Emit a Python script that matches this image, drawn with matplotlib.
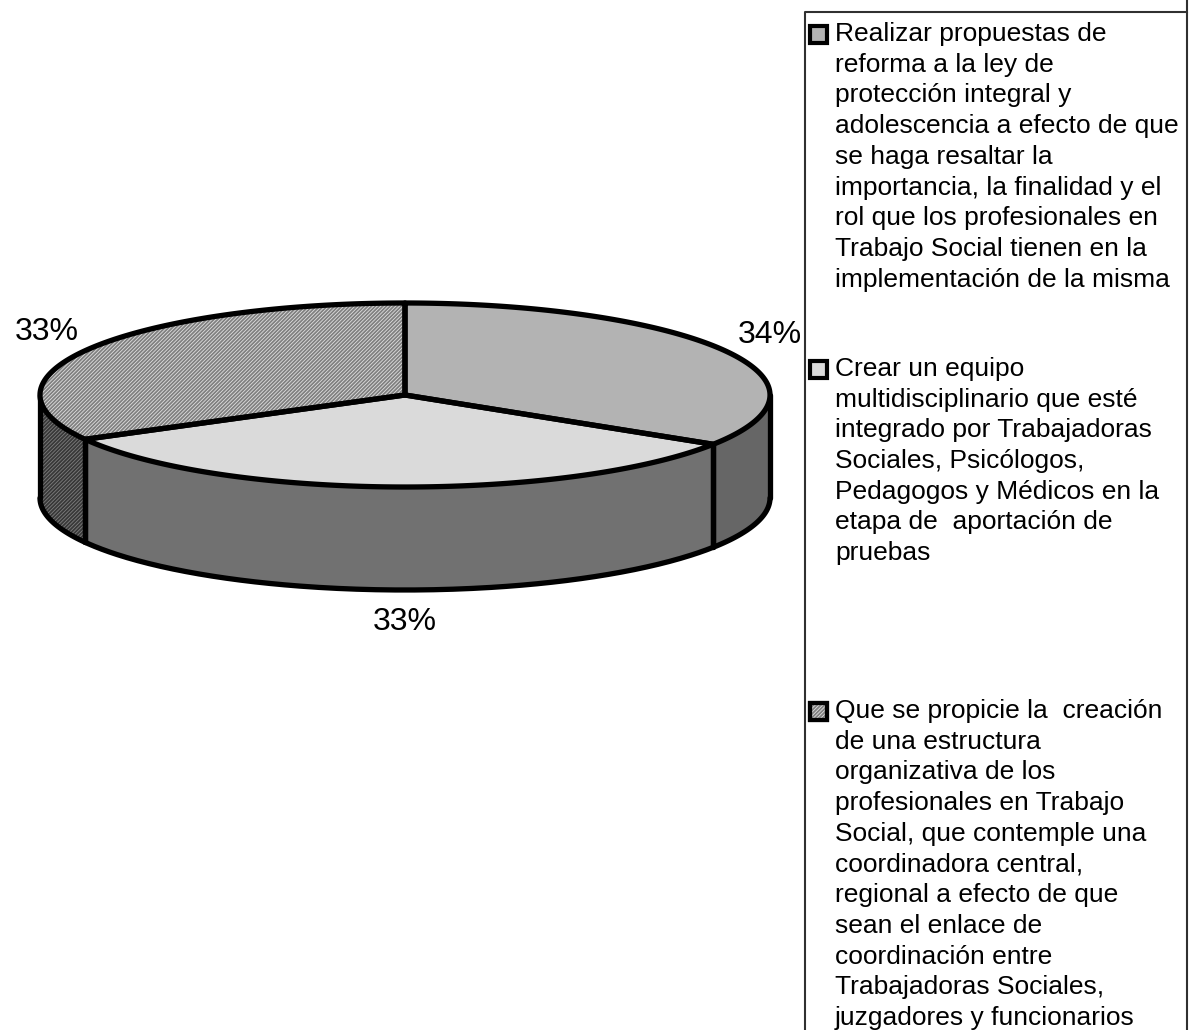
import numpy as np
import matplotlib.pyplot as plt
from matplotlib.patches import Polygon, Rectangle

plt.rcParams['font.family'] = ['Liberation Sans', 'DejaVu Sans']
plt.rcParams['hatch.linewidth'] = 1.3

# datos
valores = [34, 33, 33]
etiquetas = ['34%', '33%', '33%']
leyenda = [
    ["Realizar propuestas de", "reforma a la ley de", "protección integral y",
     "adolescencia a efecto de que", "se haga resaltar la",
     "importancia, la finalidad y el", "rol que los profesionales en",
     "Trabajo Social tienen en la", "implementación de la misma"],
    ["Crear un equipo", "multidisciplinario que esté",
     "integrado por Trabajadoras", "Sociales, Psicólogos,",
     "Pedagogos y Médicos en la", "etapa de  aportación de", "pruebas"],
    ["Que se propicie la  creación", "de una estructura",
     "organizativa de los", "profesionales en Trabajo",
     "Social, que contemple una", "coordinadora central,",
     "regional a efecto de que", "sean el enlace de",
     "coordinación entre", "Trabajadoras Sociales,",
     "juzgadores y funcionarios"],
]

# estilos
tapa = ['#b3b3b3', '#dadada', '#e2e2e2']
lado = ['#666666', '#717171', '#808080']
trama_col = [None, None, '#808080']
trama_lado = [None, None, '#383838']
leyenda_y = [34, 369, 711]

fig = plt.figure(figsize=(11.89, 10.30), dpi=100)
ax = fig.add_axes([0, 0, 1, 1])
ax.set_xlim(0, 1189)
ax.set_ylim(1030, 0)
ax.axis('off')

cx, cy, a, b, h = 405, 395, 365, 92, 103
lw = 3.8


def punto(t, dy=0):
    t = np.radians(t)
    return cx + a * np.sin(t), cy - b * np.cos(t) + dy


def arco(t0, t1, dy=0):
    ts = np.linspace(t0, t1, max(int(abs(t1 - t0)) * 2, 2))
    return np.array([punto(t, dy) for t in ts])


fr = np.array(valores) / sum(valores) * 360
lim = np.concatenate([[0], np.cumsum(fr)])

# lados
for i in range(len(valores)):
    t0, t1 = max(lim[i], 90), min(lim[i + 1], 270)
    if t1 <= t0:
        continue
    arr = arco(t0, t1)
    abj = arco(t0, t1, h)[::-1]
    pts = np.vstack([arr, abj])
    ax.add_patch(Polygon(pts, closed=True, facecolor=lado[i], edgecolor='none', zorder=2))
    if trama_lado[i]:
        ax.add_patch(Polygon(pts, closed=True, facecolor='none', edgecolor=trama_lado[i],
                             hatch='/' * 9, linewidth=0, zorder=2.1))
    abj = abj[::-1]
    ax.plot(abj[:, 0], abj[:, 1], color='black', lw=lw, zorder=3, solid_capstyle='round')
    for t in (t0, t1):
        x0, y0 = punto(t)
        ax.plot([x0, x0], [y0, y0 + h], color='black', lw=lw, zorder=3, solid_capstyle='round')

# tapas
for i in range(len(valores)):
    arr = arco(lim[i], lim[i + 1])
    pts = np.vstack([[cx, cy], arr])
    ax.add_patch(Polygon(pts, closed=True, facecolor=tapa[i], edgecolor='none', zorder=4))
    if trama_col[i]:
        ax.add_patch(Polygon(pts, closed=True, facecolor='none', edgecolor=trama_col[i],
                             hatch='/' * 9, linewidth=0, zorder=4.1))
    ax.add_patch(Polygon(pts, closed=True, fill=False, edgecolor='black', lw=lw,
                         joinstyle='round', zorder=5))

# etiquetas de porcentaje
for i in range(len(valores)):
    m = np.radians((lim[i] + lim[i + 1]) / 2)
    x = cx + 1.14 * a * np.sin(m)
    y = cy - 1.35 * b * np.cos(m) + (h if np.cos(m) < 0 else 0)
    if np.cos(m) < -0.95:
        x = cx
    ax.text(x, y, etiquetas[i], fontsize=23, ha='center', va='center', zorder=6)

# leyenda
ax.plot([805, 805, 1187, 1187], [1035, 12, 12, 1035], color='#303030', lw=1.5, zorder=6)
ax.plot([1187, 1187], [0, 12], color='#303030', lw=1.5, zorder=6)
for i, lineas in enumerate(leyenda):
    y0 = leyenda_y[i]
    ax.add_patch(Rectangle((810, y0 - 8), 17, 17, facecolor=tapa[i], edgecolor='black',
                           lw=3, zorder=7))
    if trama_col[i]:
        ax.add_patch(Rectangle((810, y0 - 8), 17, 17, facecolor='none', edgecolor=trama_col[i],
                               hatch='/' * 9, lw=0, zorder=7.1))
        ax.add_patch(Rectangle((810, y0 - 8), 17, 17, fill=False, edgecolor='black',
                               lw=3, zorder=7.2))
    for k, linea in enumerate(lineas):
        ax.text(835, y0 + 30.7 * k, linea, fontsize=19, ha='left', va='center', zorder=7)

fig.savefig('out.png', dpi=100)
